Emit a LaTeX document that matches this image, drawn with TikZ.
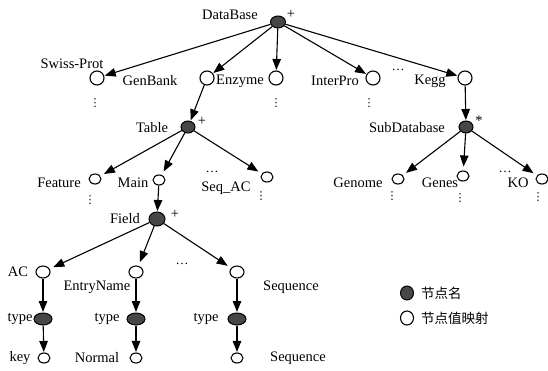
\documentclass[tikz,border=0pt]{standalone}
\usepackage{fontspec}
\setmainfont{Liberation Serif}
\newfontfamily\cjk{Noto Sans CJK SC}
\newfontfamily\symf{DejaVu Sans}
\usetikzlibrary{shapes.geometric,arrows.meta}
\begin{document}
\begin{tikzpicture}[x=1pt,y=-1pt,
  every node/.style={font=\fontsize{14.5}{17}\selectfont},
  fnode/.style={ellipse,draw=black,fill=black!72,line width=1pt,minimum width=15pt,minimum height=12pt,inner sep=0pt},
  onode/.style={ellipse,draw=black,fill=white,line width=1.1pt,minimum width=14pt,minimum height=13pt,inner sep=0pt},
  snode/.style={onode,minimum width=12pt,minimum height=10pt},
  lbl/.style={inner sep=0pt},
  vd/.style={inner sep=0pt,font=\symf\fontsize{11}{12}\selectfont},
  hd/.style={inner sep=0pt,font=\fontsize{13}{14}\selectfont},
  arr/.style={-{Triangle[length=11pt,width=8.5pt]},line width=1.1pt,shorten >=0.5pt},
  arrs/.style={arr,shorten >=4pt}]
\useasboundingbox (0,0) rectangle (548,370);

% top level
\node[fnode] (db) at (278,22) {};
\node[lbl] (dbl) at (230,15) {DataBase};
\node[lbl] (dbp) at (291,14) {+};

\node[onode,minimum height=14pt] (sp) at (97,78) {};
\node[lbl] (spl) at (72,64) {Swiss-Prot};
\node[vd] (spd) at (95,103) {⋮};

\node[onode,minimum height=14pt] (gb) at (207,78) {};
\node[lbl] (gbl) at (150,81) {GenBank};

\node[onode,minimum height=14pt] (ez) at (276,78) {};
\node[lbl] (ezl) at (240,81) {Enzyme};
\node[vd] (ezd) at (276,103) {⋮};

\node[onode,minimum height=14pt] (ip) at (373,78) {};
\node[lbl] (ipl) at (335,81) {InterPro};
\node[vd] (ipd) at (369,103) {⋮};
\node[hd] (iph) at (398,70) {\dots};

\node[onode,minimum height=14pt] (kg) at (465,78) {};
\node[lbl] (kgl) at (430,81) {Kegg};

\draw[arr] (db) -- (sp);
\draw[arr] (db) -- (gb);
\draw[arr] (db) -- (ez);
\draw[arr] (db) -- (ip);
\draw[arr] (db) -- (kg);

% Table subtree
\node[fnode,minimum width=14pt] (tb) at (188,127) {};
\node[lbl] (tbl) at (152,128) {Table};
\node[lbl] (tbp) at (202,121) {+};
\draw[arr] (gb) -- (tb);

\node[snode] (ft) at (95,179) {};
\node[lbl] (ftl) at (59,183) {Feature};
\node[vd] (ftd) at (90,200) {⋮};

\node[snode] (mn) at (159,180) {};
\node[lbl] (mnl) at (133,183) {Main};

\node[snode] (sq) at (267,177) {};
\node[lbl] (sql) at (226,188) {Seq\_AC};
\node[hd] (sqh) at (212,172) {\dots};
\node[vd] (sqd) at (261,196) {⋮};

\draw[arrs] (tb) -- (ft);
\draw[arrs] (tb) -- (mn);
\draw[arrs] (tb) -- (sq);

% Field subtree
\node[fnode,minimum width=16pt,minimum height=14pt] (fd) at (157,219) {};
\node[lbl] (fdl) at (125,219) {Field};
\node[lbl] (fdp) at (175,214) {+};
\draw[arr] (mn) -- (fd);

\node[onode,minimum height=12pt] (ac) at (43,272) {};
\node[lbl] (acl) at (18,272) {AC};
\node[onode,minimum height=12pt] (en) at (136,272) {};
\node[lbl] (enl) at (97,287) {EntryName};
\node[hd] (enh) at (182,264) {\dots};
\node[onode,minimum height=12pt] (se) at (237,272) {};
\node[lbl] (sel) at (291,287) {Sequence};

\draw[arrs] (fd) -- (ac);
\draw[arrs] (fd) -- (en);
\draw[arrs] (fd) -- (se);

\node[fnode,minimum width=18pt] (t1) at (43,319) {};
\node[lbl] (t1l) at (20,319) {type};
\node[fnode,minimum width=18pt] (t2) at (136,319) {};
\node[lbl] (t2l) at (107,319) {type};
\node[fnode,minimum width=18pt] (t3) at (237,319) {};
\node[lbl] (t3l) at (206,319) {type};

\node[snode] (k1) at (44,358) {};
\node[lbl] (k1l) at (20,358) {key};
\node[snode] (k2) at (136,358) {};
\node[lbl] (k2l) at (97,358) {Normal};
\node[snode] (k3) at (237,358) {};
\node[lbl] (k3l) at (298,358) {Sequence};

\draw[arr] (ac) -- (t1);
\draw[arr] (en) -- (t2);
\draw[arr] (se) -- (t3);
\draw[arr] (t1) -- (k1);
\draw[arr] (t2) -- (k2);
\draw[arr] (t3) -- (k3);

% Kegg subtree
\node[fnode,minimum width=14pt] (sd) at (466,127) {};
\node[lbl] (sdl) at (407,128) {SubDatabase};
\node[lbl] (sdp) at (479,121) {*};
\draw[arr] (kg) -- (sd);

\node[snode] (gn) at (398,179) {};
\node[lbl] (gnl) at (358,183) {Genome};
\node[vd] (gnd) at (392,196) {⋮};
\node[snode] (gs) at (463,176) {};
\node[lbl] (gsl) at (440,183) {Genes};
\node[vd] (gsd) at (460,198) {⋮};
\node[snode] (ko) at (542,179) {};
\node[lbl] (kol) at (518,183) {KO};
\node[hd] (koh) at (505,172) {\dots};
\node[vd] (kod) at (538,197) {⋮};

\draw[arrs] (sd) -- (gn);
\draw[arrs] (sd) -- (gs);
\draw[arrs] (sd) -- (ko);

% legend
\node[fnode,minimum width=13pt,minimum height=14pt] (lg1) at (407,293) {};
\node[lbl,anchor=west,font=\cjk\fontsize{13.5}{15}\selectfont] (lg1t) at (421,293) {节点名};
\node[onode,minimum width=13pt,minimum height=14pt] (lg2) at (407,318) {};
\node[lbl,anchor=west,font=\cjk\fontsize{13.5}{15}\selectfont] (lg2t) at (421,318) {节点值映射};
\end{tikzpicture}
\end{document}
